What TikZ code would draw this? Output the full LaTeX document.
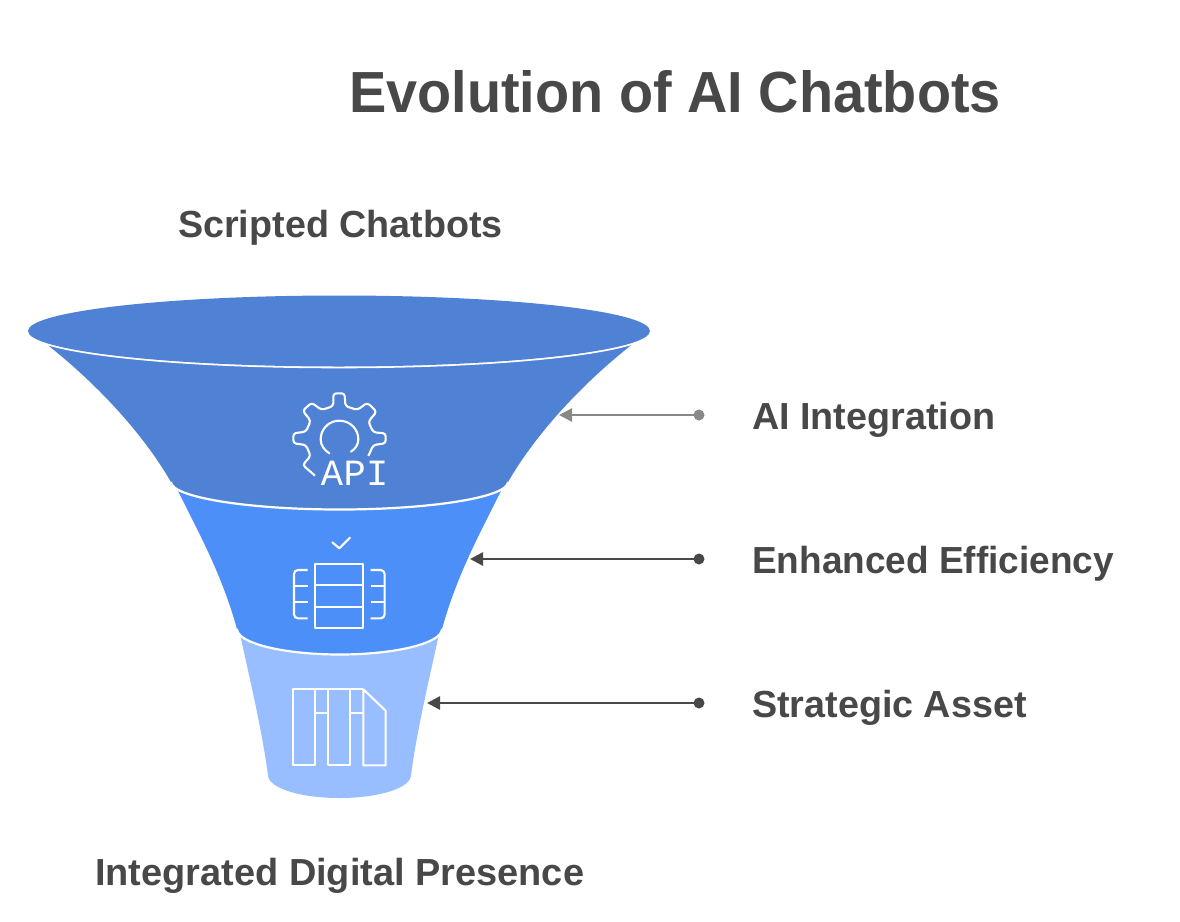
\documentclass[tikz,border=0pt]{standalone}
\usepackage{fontspec}
\usetikzlibrary{arrows.meta}
\setmainfont{Liberation Sans}
\newfontfamily\apifont[LetterSpace=1]{Liberation Mono}
\newfontfamily\titlefont[FakeStretch=0.963]{Liberation Sans}
\newfontfamily\slimfont[FakeStretch=0.981]{Liberation Sans}
\newfontfamily\widefont[FakeStretch=1.006]{Liberation Sans}
\definecolor{inkc}{HTML}{484848}
\definecolor{greyc}{HTML}{888888}
\definecolor{topc}{HTML}{4F81D5}
\definecolor{midc}{HTML}{4D8FF8}
\definecolor{lowc}{HTML}{98BEFF}
\tikzset{
  ttl/.style={inner sep=0pt,anchor=base,font=\titlefont\bfseries\fontsize{58}{60}\selectfont,text=inkc},
  lbl/.style={inner sep=0pt,anchor=base west,font=\bfseries\fontsize{37.7}{40}\selectfont,text=inkc},
  dotnode/.style={circle,fill=#1,inner sep=0pt,minimum size=11pt},
  pointer/.style={draw=#1,line width=2.6pt,-{Triangle[length=13pt,width=13pt,fill=#1]}},
  icon/.style={draw=white,line width=2.1pt,line join=round},
  seam/.style={draw=white,line width=2.2pt}
}
\begin{document}
\begin{tikzpicture}[x=1pt,y=-1pt]
\useasboundingbox (0,0) rectangle (1180,921);
\fill[white] (0,0) rectangle (1180,921);
% lowest section
\fill[lowc] (238,625) .. controls (250,680) and (262,730) .. (268,775)
  .. controls (268,788) and (300,798) .. (339.5,798)
  .. controls (379,798) and (411,788) .. (411,775)
  .. controls (417,730) and (429,680) .. (441,625) -- cycle;
% middle section
\fill[midc] (177,480) -- (177,489) .. controls (200,535) and (222,575) .. (237,629)
  .. controls (237,643) and (283,654) .. (339.5,654)
  .. controls (396,654) and (442,643) .. (442,629)
  .. controls (457,575) and (479,535) .. (502,489) -- (502,480) -- cycle;
\draw[seam] (237,629) .. controls (237,643) and (283,654.5) .. (339.5,654.5)
  .. controls (396,654.5) and (442,643) .. (442,629);
% upper section
\fill[topc] (36,336) .. controls (84,372) and (138,425) .. (171,482)
  .. controls (171,497) and (247,509) .. (339.5,509)
  .. controls (432,509) and (508,497) .. (508,482)
  .. controls (541,425) and (595,372) .. (643,336) -- cycle;
\draw[seam] (171,482) .. controls (171,497) and (247,509.5) .. (339.5,509.5)
  .. controls (432,509.5) and (508,497) .. (508,482);
% mouth
\begin{scope}
\clip (41,331) rectangle (638,375);
\draw[white,line width=3.6pt] (339,331) ellipse [x radius=311pt,y radius=35.5pt];
\end{scope}
\fill[topc] (339,331) ellipse [x radius=311pt,y radius=35.5pt];
% gear icon
\begin{scope}[shift={(270,380)},x=0.3333pt,y=-0.3333pt]
\draw[icon,rounded corners=3pt] (135,287) -- (98,255) -- (122,228) -- (108,195) -- (70,190) -- (70,160) -- (108,155) -- (122,122) -- (98,92) -- (125,68) -- (155,90) -- (190,78) -- (190,40) -- (224,40) -- (226,78) -- (262,90) -- (292,68) -- (320,95) -- (295,125) -- (310,157) -- (347,160) -- (347,190) -- (310,195) -- (295,228);
\draw[icon,line cap=round] (178,220) .. controls (162,210) and (152,195) .. (152,178) .. controls (152,147) and (177,122) .. (208,122) .. controls (240,122) and (265,147) .. (265,178) .. controls (265,193) and (257,206) .. (243,215);
\node[inner sep=0pt,anchor=base,text=white,font=\apifont\fontsize{37}{37}\selectfont] (apilabel) at (254,316) {API};
\end{scope}
% table icon
\begin{scope}[shift={(270,525)},x=0.3333pt,y=-0.3333pt]
\draw[icon,line cap=round] (187,52) -- (208,70) -- (240,38);
\draw[icon] (135,117) rectangle (279,310);
\draw[icon] (135,180) -- (279,180) (135,246) -- (279,246);
\draw[icon,rounded corners=4pt] (113,135) -- (72,135) -- (72,280) -- (113,280);
\draw[icon] (72,183) -- (113,183) (72,232) -- (113,232);
\draw[icon,rounded corners=4pt] (302,135) -- (344,135) -- (344,280) -- (302,280);
\draw[icon] (302,183) -- (344,183) (302,232) -- (344,232);
\end{scope}
% bars icon
\begin{scope}[shift={(270,670)},x=0.3333pt,y=-0.3333pt]
\draw[icon] (70,58) rectangle (135,286);
\draw[icon] (175,58) rectangle (240,286);
\draw[icon] (135,58) -- (175,58) (240,58) -- (280,58);
\draw[icon] (280,58) -- (347,122) -- (347,286) -- (280,286) -- cycle;
\draw[icon] (135,128) -- (175,128) (240,128) -- (280,128);
\end{scope}
% labels
\node[ttl] (title) at (675,112) {Evolution of AI Chatbots};
\node[lbl] (scripted) at (178,237) {Scripted Chatbots};
\node[lbl] (integ) at (752,429) {AI Integration};
\node[lbl,font=\slimfont\bfseries\fontsize{37.7}{40}\selectfont] (effic) at (752,573) {Enhanced Efficiency};
\node[lbl] (strat) at (752,717) {Strategic Asset};
\node[lbl,font=\widefont\bfseries\fontsize{37.7}{40}\selectfont] (present) at (95,885) {Integrated Digital Presence};
% pointers
\node[dotnode=greyc] (d1) at (699,415) {};
\node[dotnode=inkc] (d2) at (699,559) {};
\node[dotnode=inkc] (d3) at (699,703) {};
\coordinate (t1) at (559,415);
\coordinate (t2) at (470,559);
\coordinate (t3) at (427,703);
\draw[pointer=greyc] (d1.center) -- (t1);
\draw[pointer=inkc] (d2.center) -- (t2);
\draw[pointer=inkc] (d3.center) -- (t3);
\end{tikzpicture}
\end{document}
